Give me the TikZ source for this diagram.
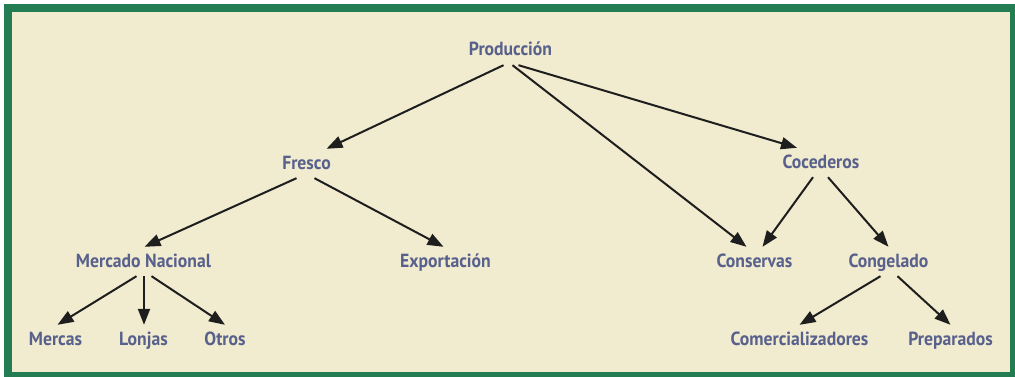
\documentclass[tikz,border=0pt]{standalone}
\usepackage{fontspec}
\setmainfont[FakeStretch=0.93]{PT Sans}
\usetikzlibrary{arrows.meta}
\definecolor{prdgreen}{HTML}{237C52}
\definecolor{prdbeige}{HTML}{F1EBCF}
\definecolor{prdtext}{HTML}{58608C}
\definecolor{prdarrow}{HTML}{1E1E1E}
\tikzset{
  item/.style={anchor=base,font=\fontsize{19}{22}\selectfont\bfseries,text=prdtext,
    text height=16pt,text depth=5pt,inner xsep=2pt,inner ysep=4pt},
  arr/.style={prdarrow,line width=2pt,-{Triangle[length=16pt,width=12pt]}}
}

\begin{document}
\begin{tikzpicture}[x=1pt,y=-1pt]
  \useasboundingbox (0,0) rectangle (1015,377);
  \fill[white] (0,0) rectangle (1015,377);
  \fill[prdgreen] (4,4) rectangle (1015,377);
  \fill[prdbeige] (12,12) rectangle (1010,372);
  % nodes
  \node[item] (prod) at (510.5,56) {Producción};
  \node[item] (fresco) at (306.5,169) {Fresco};
  \node[item] (coced) at (821,168) {Cocederos};
  \node[item] (mercado) at (143.5,267) {Mercado Nacional};
  \node[item] (export) at (445.5,267) {Exportación};
  \node[item] (conserv) at (754.5,267) {Conservas};
  \node[item] (congel) at (888.5,267) {Congelado};
  \node[item] (mercas) at (55.5,345) {Mercas};
  \node[item] (lonjas) at (143.5,345) {Lonjas};
  \node[item] (otros) at (225,345) {Otros};
  \node[item] (comerc) at (799.5,345) {Comercializadores};
  \node[item] (prep) at (950.5,345) {Preparados};
  % arrows
  \draw[arr] ([xshift=-7pt]prod.south) -- ([xshift=20pt]fresco.north);
  \draw[arr] ([xshift=2pt]prod.south) -- ([xshift=-8pt]conserv.north);
  \draw[arr] ([xshift=8pt]prod.south) -- ([xshift=-24pt]coced.north);
  \draw[arr] ([xshift=-10pt]fresco.south) -- ([xshift=1pt]mercado.north);
  \draw[arr] ([xshift=8pt]fresco.south) -- ([xshift=-2pt]export.north);
  \draw[arr] ([xshift=-8pt]coced.south) -- ([xshift=8pt]conserv.north);
  \draw[arr] ([xshift=7pt]coced.south) -- (congel.north);
  \draw[arr] ([xshift=-7pt]mercado.south) -- ([xshift=2pt]mercas.north);
  \draw[arr] ([xshift=0.5pt]mercado.south) -- ([xshift=0.5pt]lonjas.north);
  \draw[arr] ([xshift=8pt]mercado.south) -- (otros.north);
  \draw[arr] ([xshift=-8pt]congel.south) -- (comerc.north);
  \draw[arr] ([xshift=9pt]congel.south) -- (prep.north);
\end{tikzpicture}
\end{document}
